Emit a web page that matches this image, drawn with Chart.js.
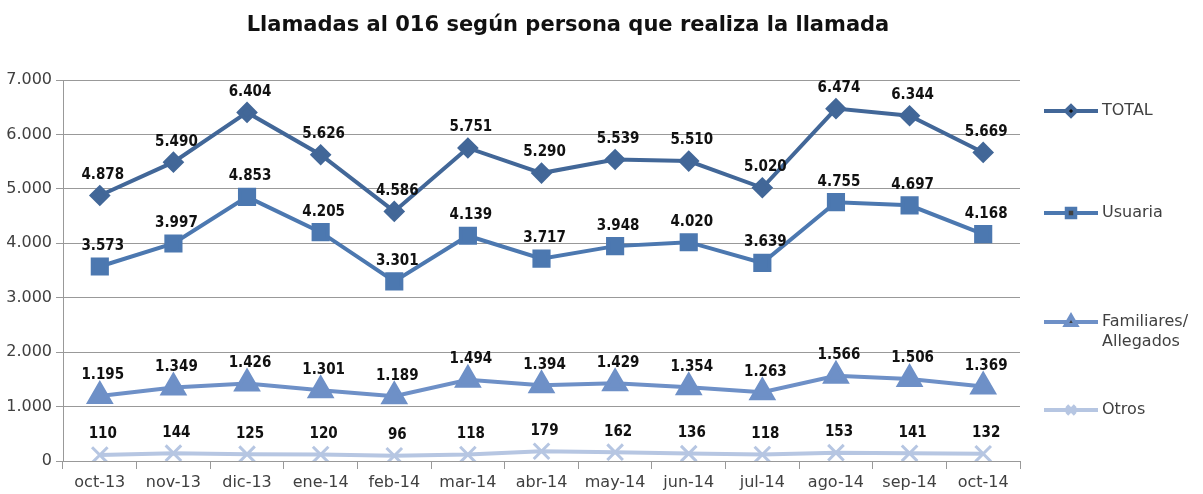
<!DOCTYPE html>
<html>
<head>
<meta charset="utf-8">
<script src="https://cdn.jsdelivr.net/npm/chart.js@4.4.1/dist/chart.umd.min.js"></script>
<style>
  html, body { margin: 0; padding: 0; background: #fff; }
  #wrap { width: 1203px; height: 494px; }
</style>
</head>
<body>
<div id="wrap"><canvas id="chart" width="1203" height="494"></canvas></div>
<script>
// data
const months = ['oct-13', 'nov-13', 'dic-13', 'ene-14', 'feb-14', 'mar-14', 'abr-14',
  'may-14', 'jun-14', 'jul-14', 'ago-14', 'sep-14', 'oct-14'];
const total = [4878, 5490, 6404, 5626, 4586, 5751, 5290, 5539, 5510, 5020, 6474, 6344, 5669];
const usuaria = [3573, 3997, 4853, 4205, 3301, 4139, 3717, 3948, 4020, 3639, 4755, 4697, 4168];
const familiares = [1195, 1349, 1426, 1301, 1189, 1494, 1394, 1429, 1354, 1263, 1566, 1506, 1369];
const otros = [110, 144, 125, 120, 96, 118, 179, 162, 136, 118, 153, 141, 132];
const yTicks = [0, 1000, 2000, 3000, 4000, 5000, 6000, 7000];

const titleText = 'Llamadas al 016 según persona que realiza la llamada';
const textColor = '#404040';

// 4878 -> "4.878"
function fmt(v) {
  return String(v).replace(/\B(?=(\d{3})+(?!\d))/g, '.');
}

// value labels over each point, title and the side legend
const extras = {
  id: 'extras',
  afterDatasetsDraw(chart) {
    const ctx = chart.ctx;
    ctx.save();
    ctx.font = 'bold 15px "DejaVu Sans Condensed", "DejaVu Sans", sans-serif';
    ctx.fillStyle = '#111';
    ctx.textAlign = 'center';
    ctx.textBaseline = 'bottom';
    chart.data.datasets.forEach((ds, i) => {
      const meta = chart.getDatasetMeta(i);
      meta.data.forEach((pt, j) => {
        ctx.fillText(fmt(ds.data[j]), pt.x + 3, pt.y - 13);
      });
    });
    ctx.restore();
  },
  afterDraw(chart) {
    const ctx = chart.ctx;
    ctx.save();
    // title
    ctx.font = 'bold 21px "DejaVu Sans", sans-serif';
    ctx.fillStyle = '#111';
    ctx.textAlign = 'center';
    ctx.textBaseline = 'middle';
    ctx.fillText(titleText, 568, 26);

    // legend
    const legendY = [111, 213, 322, 410];
    ctx.font = '16px "DejaVu Sans", sans-serif';
    ctx.textAlign = 'left';
    chart.data.datasets.forEach((ds, i) => {
      const y = legendY[i];
      ctx.strokeStyle = ds.borderColor;
      ctx.lineWidth = 4;
      ctx.beginPath();
      ctx.moveTo(1044, y);
      ctx.lineTo(1098, y);
      ctx.stroke();
      Chart.helpers.drawPoint(ctx, {
        pointStyle: ds.pointStyle,
        radius: ds.legendRadius,
        borderWidth: ds.pointBorderWidth || 1,
        rotation: 0
      }, 1071, y);
      ctx.fillStyle = textColor;
      ds.legendLines.forEach((ln, k) => {
        ctx.fillText(ln, 1102, y + k * 20);
      });
    });
    ctx.restore();
  }
};

const ctx = document.getElementById('chart').getContext('2d');
new Chart(ctx, {
  type: 'line',
  data: {
    labels: months,
    datasets: [
      {
        label: 'TOTAL',
        legendLines: ['TOTAL'],
        data: total,
        borderColor: 'rgb(66,103,152)',
        backgroundColor: 'rgb(66,103,152)',
        pointStyle: 'rectRot',
        pointRadius: 8,
        legendRadius: 5,
        borderWidth: 4,
        tension: 0
      },
      {
        label: 'Usuaria',
        legendLines: ['Usuaria'],
        data: usuaria,
        borderColor: 'rgb(76,120,176)',
        backgroundColor: 'rgb(76,120,176)',
        pointStyle: 'rect',
        pointRadius: 10,
        legendRadius: 6,
        borderWidth: 4,
        tension: 0
      },
      {
        label: 'Familiares/ Allegados',
        legendLines: ['Familiares/', 'Allegados'],
        data: familiares,
        borderColor: 'rgb(110,144,199)',
        backgroundColor: 'rgb(110,144,199)',
        pointStyle: 'triangle',
        pointRadius: 12,
        legendRadius: 6,
        borderWidth: 4,
        tension: 0
      },
      {
        label: 'Otros',
        legendLines: ['Otros'],
        data: otros,
        borderColor: 'rgb(182,198,226)',
        backgroundColor: 'rgb(182,198,226)',
        pointStyle: 'crossRot',
        pointRadius: 11,
        pointBorderWidth: 3,
        legendRadius: 6,
        borderWidth: 4,
        tension: 0
      }
    ]
  },
  options: {
    responsive: false,
    animation: false,
    layout: {
      padding: { top: 80, right: 183, left: 3, bottom: 0 }
    },
    plugins: {
      legend: { display: false },
      title: { display: false },
      tooltip: { enabled: false }
    },
    scales: {
      x: {
        type: 'category',
        offset: true,
        grid: {
          display: true,
          offset: true,
          drawOnChartArea: false,
          tickLength: 8,
          color: '#999'
        },
        border: { color: '#999', width: 1 },
        ticks: {
          color: textColor,
          font: { family: '"DejaVu Sans", sans-serif', size: 16 },
          maxRotation: 0,
          autoSkip: false,
          padding: 4
        },
        afterFit(scale) { scale.height = 33; }
      },
      y: {
        type: 'linear',
        min: 0,
        max: 7000,
        afterBuildTicks(scale) {
          scale.ticks = yTicks.map(v => ({ value: v }));
        },
        grid: {
          color: '#999',
          tickLength: 7
        },
        border: { color: '#999', width: 1 },
        ticks: {
          color: textColor,
          font: { family: '"DejaVu Sans", sans-serif', size: 16 },
          padding: 4,
          callback: v => fmt(v)
        },
        afterFit(scale) { scale.width = 60; }
      }
    }
  },
  plugins: [extras]
});
</script>
</body>
</html>
